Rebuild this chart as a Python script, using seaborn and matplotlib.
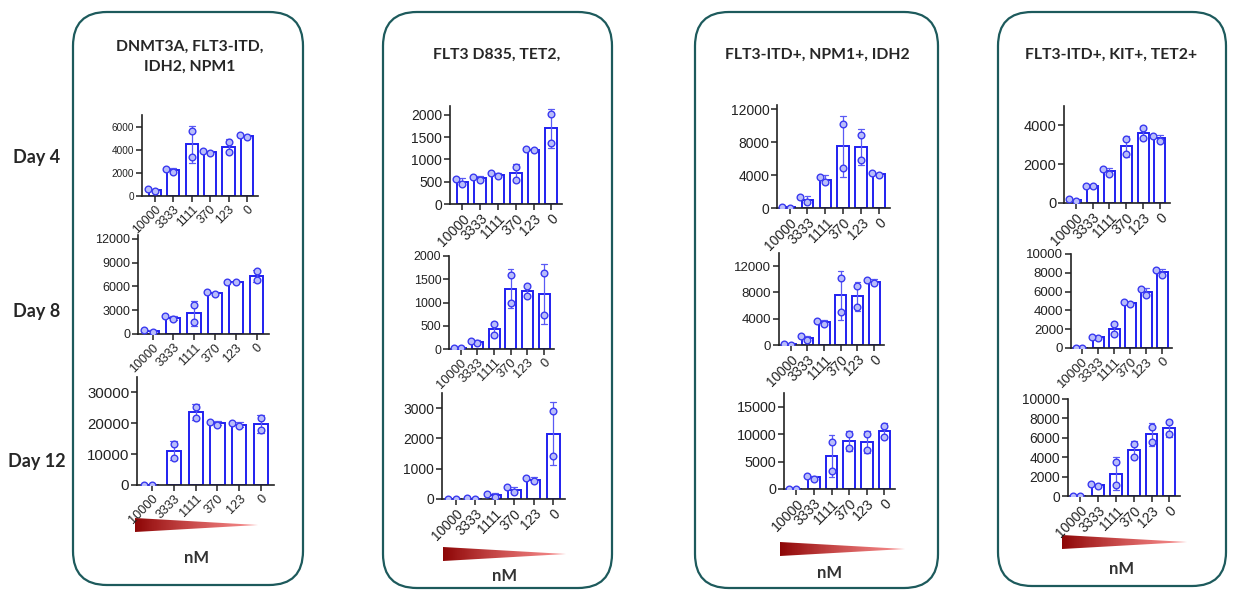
import numpy as np
import pandas as pd
import matplotlib
matplotlib.use("Agg")
import matplotlib.pyplot as plt
import seaborn as sns
from matplotlib.patches import FancyBboxPatch, Polygon

# ---- data: two replicate wells per dose ----
doses = ["10000", "3333", "1111", "370", "123", "0"]
days = ["Day 4", "Day 8", "Day 12"]
titles = ["DNMT3A, FLT3-ITD,\nIDH2, NPM1", "FLT3 D835, TET2,",
          "FLT3-ITD+, NPM1+, IDH2", "FLT3-ITD+, KIT+, TET2+"]

p1_day4 = [[450, 580], [2100, 2350], [5600, 3350], [3750, 3900], [4700, 3800], [5100, 5250]]
p1_day8 = [[200, 500], [1900, 2250], [3700, 1500], [5000, 5300], [6550, 6600], [7900, 6800]]
p1_day12 = [[60, 60], [13300, 8900], [25400, 21700], [19500, 20500], [19000, 20200], [21800, 17800]]

p2_day4 = [[560, 450], [550, 610], [620, 690], [840, 550], [1220, 1225], [2010, 1380]]
p2_day8 = [[20, 25], [120, 180], [540, 310], [1590, 1000], [1360, 1150], [1640, 730]]
p2_day12 = [[10, 15], [10, 20], [80, 170], [240, 380], [580, 700], [2890, 1420]]

p3_day4 = [[50, 150], [750, 1300], [3100, 3800], [10140, 4900], [8900, 5800], [3950, 4200]]
p3_day8 = [[50, 150], [800, 1300], [3200, 3700], [10200, 4950], [9000, 5850], [9400, 9900]]
p3_day12 = [[40, 40], [1900, 2350], [8650, 3260], [10100, 7400], [9950, 7200], [11560, 9550]]

p4_day4 = [[120, 200], [880, 900], [1750, 1510], [3300, 2540], [3860, 3350], [3450, 3200]]
p4_day8 = [[30, 30], [1100, 1200], [2550, 1520], [4700, 4850], [6250, 5600], [8300, 7800]]
p4_day12 = [[20, 20], [1000, 1200], [3530, 1100], [5360, 4050], [7160, 5540], [7580, 6370]]

panels = [
    [p1_day4, p1_day8, p1_day12],
    [p2_day4, p2_day8, p2_day12],
    [p3_day4, p3_day8, p3_day12],
    [p4_day4, p4_day8, p4_day12],
]

# ---- layout (pixels on a 1242 x 593 canvas) ----
W, H = 1242, 593
axes_px = {
    (0, 0): (142, 115, 258, 196), (0, 1): (138, 235, 269, 334), (0, 2): (137, 377, 274, 485),
    (1, 0): (450, 106, 562, 204), (1, 1): (449, 256, 554, 349), (1, 2): (442, 393, 565, 499),
    (2, 0): (777, 105, 890, 208), (2, 1): (779, 253, 884, 345), (2, 2): (784, 393, 895, 489),
    (3, 0): (1064, 106, 1170, 203), (3, 1): (1071, 254, 1172, 348), (3, 2): (1068, 399, 1180, 496),
}
# ymax, tick step, y-label size, x-label size
yaxis = {
    (0, 0): (7000, 2000, 7.2, 8.8), (0, 1): (12500, 3000, 9.0, 9.0), (0, 2): (35000, 10000, 10.8, 9.2),
    (1, 0): (2200, 500, 10.0, 10.0), (1, 1): (2000, 500, 8.9, 9.3), (1, 2): (3500, 1000, 10.0, 9.8),
    (2, 0): (12500, 4000, 10.0, 10.0), (2, 1): (14000, 4000, 9.5, 9.8), (2, 2): (17500, 5000, 10.4, 10.2),
    (3, 0): (5000, 2000, 10.5, 10.0), (3, 1): (10000, 2000, 9.5, 9.5), (3, 2): (10000, 2000, 9.9, 9.9),
}
boxes = [(73, 12, 303, 585), (383, 12, 612, 588), (695, 12, 938, 588), (998, 12, 1226, 586)]
title_xy = [(190, 57), (497, 55), (817, 55), (1111, 55)]
wedges = [(135, 258, 525), (443, 566, 554), (780, 905, 549), (1062, 1187, 542)]
nm_xy = [(197, 558), (505, 576), (830, 573), (1122, 569)]
day_y = [157, 311, 461]

sns.set_style("ticks")
plt.rcParams["font.family"] = ["Liberation Sans", "DejaVu Sans"]

BLUE = "#2020f0"
EDGE = "#1d5a5c"

fig = plt.figure(figsize=(W / 100, H / 100), dpi=100)

# background canvas in pixel coordinates
bg = fig.add_axes([0, 0, 1, 1], zorder=0)
bg.set_xlim(0, W)
bg.set_ylim(H, 0)
bg.axis("off")

grad = np.zeros((1, 256, 4))
t = np.linspace(0, 1, 256)
grad[0, :, 0] = 0.55 + 0.40 * t
grad[0, :, 1] = 0.02 + 0.20 * t
grad[0, :, 2] = 0.02 + 0.20 * t
grad[0, :, 3] = 1.0 - 0.45 * t

for i, (l, tp, r, b) in enumerate(boxes):
    bg.add_patch(FancyBboxPatch((l, tp), r - l, b - tp,
                                boxstyle="round,pad=0,rounding_size=34",
                                fc="white", ec=EDGE, lw=1.6))
    tx, ty = title_xy[i]
    bg.text(tx, ty, titles[i], ha="center", va="center", fontsize=11.3,
            fontweight="bold", family=["Lato", "DejaVu Sans"], color="#262626",
            linespacing=1.55)
    x0, x1, yc = wedges[i]
    tri = Polygon([(x0, yc - 7), (x1, yc), (x0, yc + 7)], closed=True,
                  transform=bg.transData, fc="none", ec="none")
    bg.add_patch(tri)
    im = bg.imshow(grad, extent=(x0, x1, yc + 7, yc - 7), aspect="auto",
                   interpolation="bilinear", zorder=2)
    im.set_clip_path(tri)
    nx, ny = nm_xy[i]
    bg.text(nx, ny, "nM", ha="center", va="center", fontsize=12,
            fontweight="bold", family=["Lato", "DejaVu Sans"], color="#333333")

for j, d in enumerate(days):
    bg.text(37, day_y[j], d, ha="center", va="center", fontsize=13,
            fontweight="bold", family=["Lato", "DejaVu Sans"], color="#262626")
bg.set_xlim(0, W)
bg.set_ylim(H, 0)

for i, panel in enumerate(panels):
    for j, reps in enumerate(panel):
        rows = [(doses[k], v) for k, pair in enumerate(reps) for v in pair]
        df = pd.DataFrame(rows, columns=["dose", "value"])

        l, tp, r, b = axes_px[(i, j)]
        ax = fig.add_axes([l / W, 1 - b / H, (r - l) / W, (b - tp) / H], zorder=3)
        ax.patch.set_alpha(0)

        sns.barplot(data=df, x="dose", y="value", order=doses, errorbar="sd",
                    width=0.66, color="white", edgecolor=BLUE, linewidth=1.4,
                    capsize=0.32, err_kws={"color": "#5a5af5", "linewidth": 0.9},
                    ax=ax)
        sns.swarmplot(data=df, x="dose", y="value", order=doses, size=4.8,
                      color="#b9bdfa", edgecolor="#3a3af0", linewidth=1.0, ax=ax)

        ymax, step, fy, fx = yaxis[(i, j)]
        ax.set_ylim(0, ymax)
        ax.set_yticks(np.arange(0, ymax + 1, step))
        ax.set_xlim(-0.7, 5.6)
        ax.set_xlabel("")
        ax.set_ylabel("")
        sns.despine(ax=ax)
        for s in ("left", "bottom"):
            ax.spines[s].set_linewidth(1.2)
            ax.spines[s].set_color("#222222")
        ax.tick_params(axis="both", direction="out", length=4, width=1.1,
                       colors="#222222", pad=1.5)
        ax.tick_params(axis="y", labelsize=fy)
        ax.tick_params(axis="x", labelsize=fx)
        plt.setp(ax.get_xticklabels(), rotation=45, ha="right",
                 rotation_mode="anchor")

fig.savefig("out.png", dpi=100)
